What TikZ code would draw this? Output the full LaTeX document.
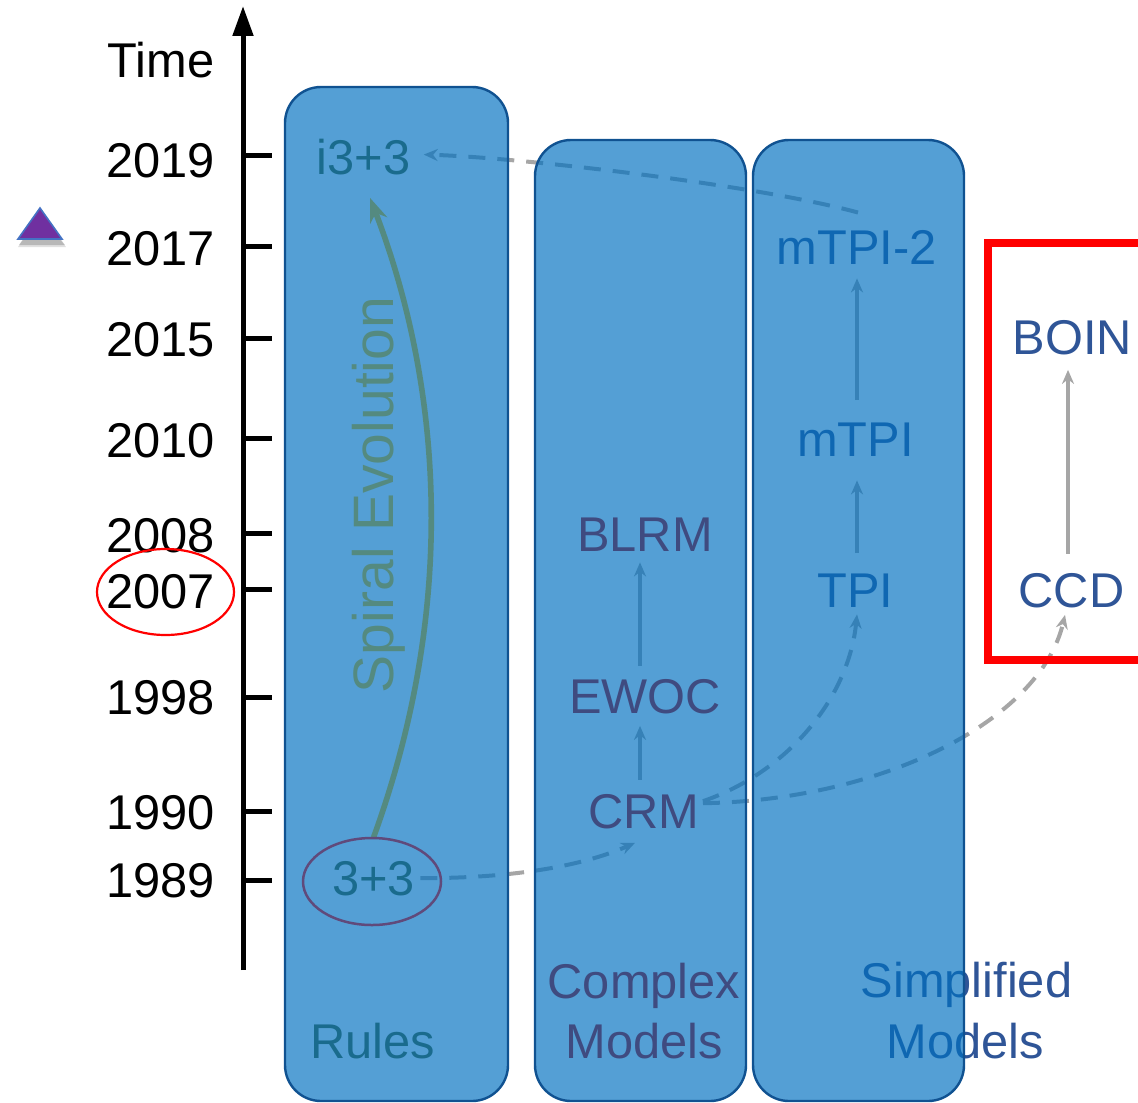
\documentclass[tikz,border=0pt]{standalone}
\usepackage{fontspec}
\setmainfont{Liberation Sans}
\usetikzlibrary{arrows.meta,shapes.geometric,calc}
\pgfdeclarelayer{under}
\pgfdeclarelayer{over}
\pgfsetlayers{under,main,over}

\definecolor{panelfill}{RGB}{0,112,192}
\definecolor{paneledge}{RGB}{16,82,145}
\definecolor{rulecol}{RGB}{79,98,40}
\definecolor{complexcol}{RGB}{192,0,0}
\definecolor{simplecol}{RGB}{47,85,151}
\definecolor{linkgrey}{RGB}{166,166,166}
\definecolor{spiralcol}{RGB}{255,192,0}
\definecolor{ringcol}{RGB}{96,74,123}
\definecolor{markpurple}{RGB}{112,48,160}
\definecolor{markedge}{RGB}{68,114,196}

\tikzset{
  big/.style={font=\fontsize{24.4}{28}\selectfont, inner sep=0pt, anchor=base},
  year/.style={big, anchor=base east, text=black},
  panel/.style={draw=paneledge, line width=1.2pt, fill=panelfill, fill opacity=0.67, rounded corners=18pt},
  link/.style={draw=linkgrey, line width=1.6pt, -{Stealth[length=7pt,width=6pt]}},
  dlink/.style={link, line width=2pt, dash pattern=on 8.5pt off 6pt},
  tickmark/.style={line width=2.5pt},
}

\begin{document}
\begin{tikzpicture}[x=0.5pt,y=-0.5pt]
\useasboundingbox (0,0) rectangle (1138,1102);

% time axis with ticks
\draw[line width=2.5pt, -{Triangle[length=15pt,width=10pt]}] (243,970) -- (243,6);
\foreach \y in {155,246,338,438,533,589,697,811,880}
  \draw[tickmark] (243,\y) -- (272,\y);

\node[year] (time)  at (215,77)  {Time};
\node[year] (y2019) at (215,177) {2019};
\node[year] (y2017) at (215,265) {2017};
\node[year] (y2015) at (215,356) {2015};
\node[year] (y2010) at (215,457) {2010};
\node[year] (y2008) at (215,552) {2008};
\node[year] (y2007) at (215,608) {2007};
\node[year] (y1998) at (215,714) {1998};
\node[year] (y1990) at (215,829) {1990};
\node[year] (y1989) at (215,897) {1989};

\node[draw=red, line width=1.1pt, ellipse, minimum width=68.5pt, minimum height=43pt, inner sep=0pt]
  (ring2007) at (165.5,592) {};

% marker triangle with soft shadow
\fill[black, opacity=0.18] (41,213) -- (65,245) -- (19,245) -- cycle;
\fill[black, opacity=0.12] (41,215) -- (66,247) -- (18,247) -- cycle;
\draw[markedge, line width=0.8pt, fill=markpurple] (40,208) -- (62,239) -- (18,239) -- cycle;

% labels and links sit beneath the translucent panels
\begin{pgfonlayer}{under}
  % rules column
  \node[big, text=rulecol] (i33)   at (363.5,174) {i3+3};
  \node[big, text=rulecol] (t33)   at (373.5,895) {3+3};
  \node[big, text=rulecol] (rules) at (373,1058)  {Rules};
  \node[big, font=\fontsize{28.5}{32}\selectfont, text=spiralcol, rotate=90] (spiral) at (393,495) {Spiral Evolution};

  % complex models column
  \node[big, text=complexcol] (crm)  at (644,828) {CRM};
  \node[big, text=complexcol] (ewoc) at (645,713) {EWOC};
  \node[big, text=complexcol] (blrm) at (645,551) {BLRM};
  \node[big, text=complexcol] (cmplxA) at (644,998)  {Complex};
  \node[big, text=complexcol] (cmplxB) at (644,1058) {Models};

  % simplified models column
  \node[big, text=simplecol] (tpi)   at (855.5,607) {TPI};
  \node[big, text=simplecol] (mtpi)  at (855.5,456) {mTPI};
  \node[big, text=simplecol] (mtpi2) at (856.5,264) {mTPI-2};
  \node[big, text=simplecol] (simpA) at (966.5,997)  {Simplified};
  \node[big, text=simplecol] (simpB) at (965.5,1058) {Models};

  % boxed designs
  \node[big, text=simplecol] (boin) at (1072.5,354) {BOIN};
  \node[big, text=simplecol] (ccd)  at (1071.5,607) {CCD};

  % spiral evolution arrow
  \draw[spiralcol, line width=2.8pt, -{Stealth[length=12pt,width=9pt]}]
    ([yshift=11.5pt]t33.north) .. controls (460,600) and (440,380) .. ([xshift=3.25pt,yshift=-11.5pt]i33.south);

  % solid links
  \draw[link] ([xshift=-2pt,yshift=7pt]crm.north) -- ([xshift=-2.5pt,yshift=-6pt]ewoc.south);
  \draw[link] ([xshift=-2.5pt,yshift=6.5pt]ewoc.north) -- ([xshift=-2.5pt,yshift=-5.5pt]blrm.south);
  \draw[link] ([xshift=0.75pt,yshift=10pt]tpi.north) -- ([xshift=0.75pt,yshift=-12pt]mtpi.south);
  \draw[link] ([xshift=0.75pt,yshift=11pt]mtpi.north) -- ([xshift=0.25pt,yshift=-7pt]mtpi2.south);
  \draw[link] ([xshift=-1.75pt,yshift=9.5pt]ccd.north) -- ([xshift=-2.25pt,yshift=-7.5pt]boin.south);

  % dashed links
  \draw[dlink] ([xshift=2.5pt]t33.east) .. controls +(90,0) and +(-55,24) .. ([xshift=-4.5pt,yshift=-7pt]crm.south);
  \draw[dlink] ([xshift=1.5pt,yshift=5pt]crm.east) .. controls +(89,-31) and +(-8,80) .. ([xshift=0.75pt,yshift=-3.5pt]tpi.south);
  \draw[dlink] ([xshift=1.5pt,yshift=4pt]crm.east) .. controls +(179,-3) and +(-25,106) .. ([xshift=-3.25pt,yshift=-3.5pt]ccd.south);
  \draw[dlink] ([xshift=0.75pt,yshift=8.5pt]mtpi2.north) .. controls +(-98,-27) and +(98,3) .. ([xshift=6.5pt,yshift=1pt]i33.east);
\end{pgfonlayer}

% translucent columns
\draw[panel] (285,87)  rectangle (508,1101);
\draw[panel] (535,140) rectangle (746,1101);
\draw[panel] (753,140) rectangle (964,1101);

% red frame around the boxed designs
\draw[red, line width=4pt, line join=miter] (1138,242.5) -- (987.5,242.5) -- (987.5,660) -- (1138,660);

\begin{pgfonlayer}{over}
  \node[draw=ringcol, line width=1.25pt, ellipse, minimum width=69pt, minimum height=43.5pt, inner sep=0pt]
    (ring33) at (372,881.5) {};
\end{pgfonlayer}
\end{tikzpicture}
\end{document}
